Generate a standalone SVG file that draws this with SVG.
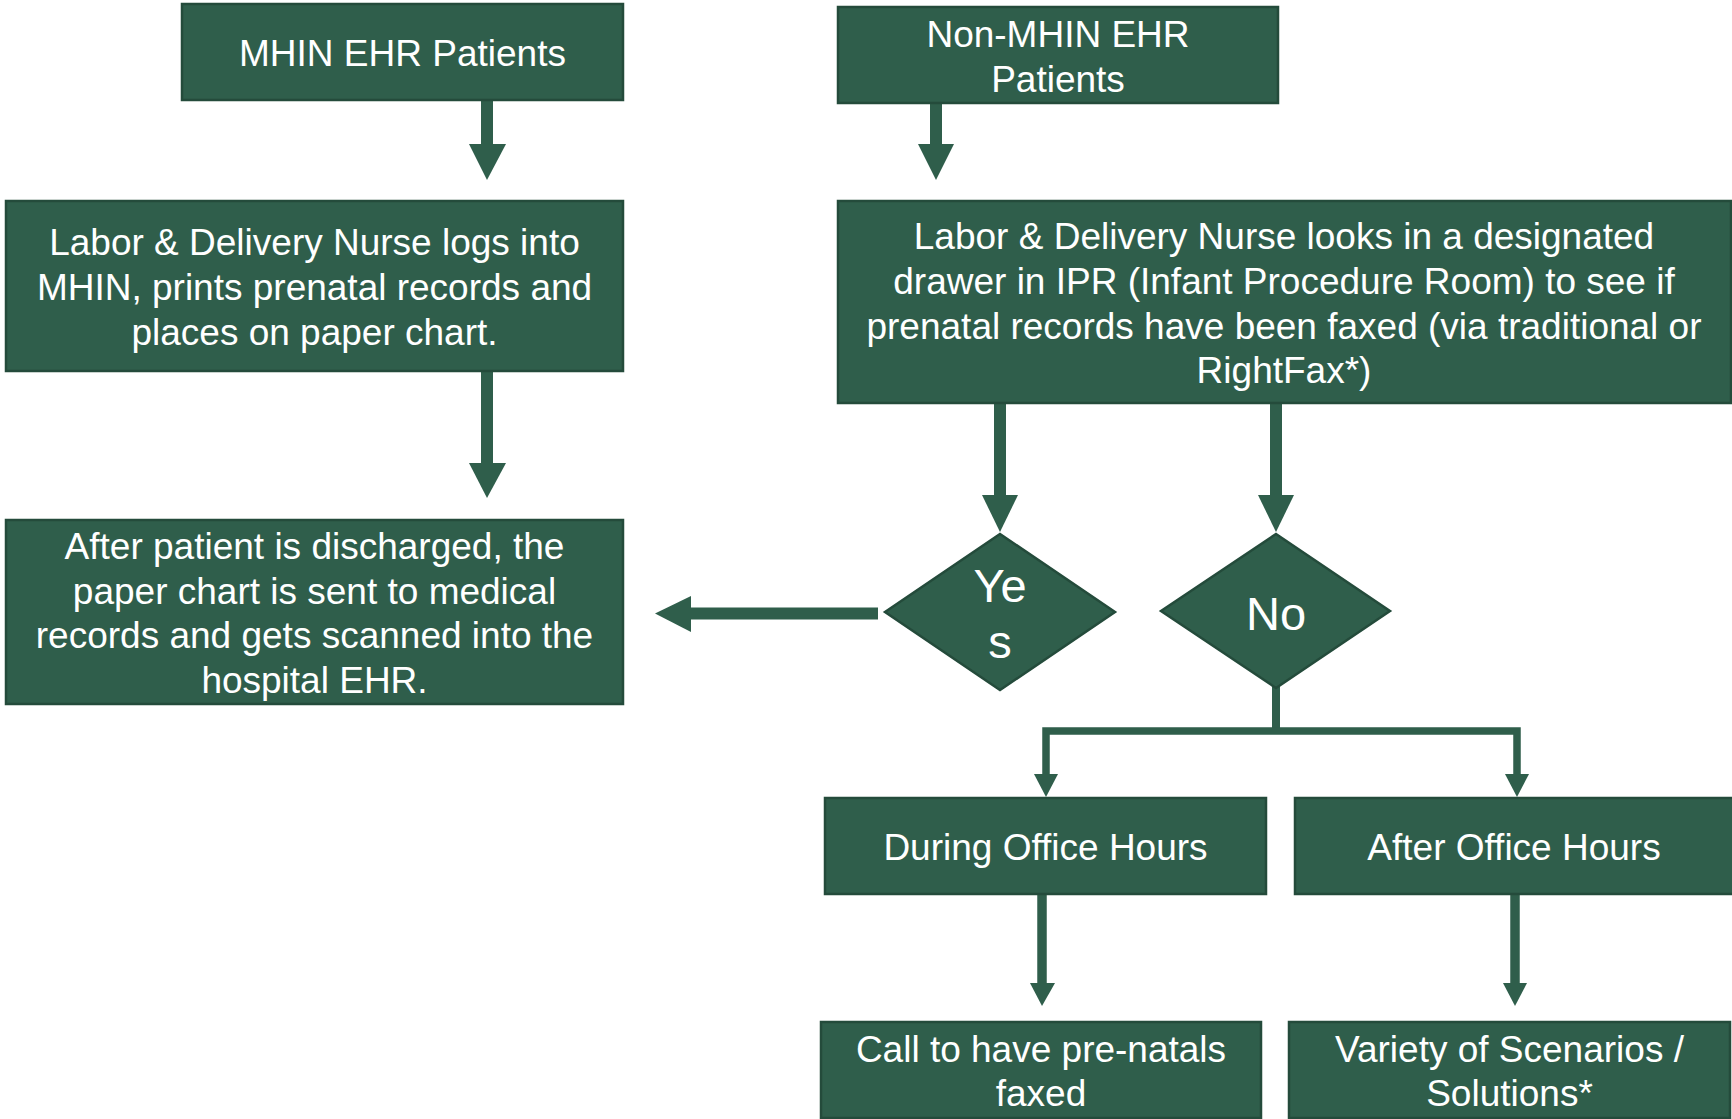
<svg xmlns="http://www.w3.org/2000/svg" width="1732" height="1119" viewBox="0 0 1732 1119">
<style>
.box{fill:#2F5E4B;stroke:#244B3B;stroke-width:2.5}
.t{fill:#FFFFFF;font-family:"Liberation Sans",Arial,sans-serif;font-size:37px;text-anchor:middle}
.big{font-size:47px}
.ln{fill:none;stroke:#2F5E4B}
.hd{fill:#2F5E4B}
</style>
<rect width="1732" height="1119" fill="#FFFFFF"/>
<g id="connectors">
  <line class="ln" x1="487" y1="100" x2="487" y2="146" stroke-width="12"/>
  <polygon class="hd" points="469,144 506,144 487,180"/>
  <line class="ln" x1="487" y1="371" x2="487" y2="465" stroke-width="12"/>
  <polygon class="hd" points="469,463 506,463 487,498"/>
  <line class="ln" x1="936" y1="103" x2="936" y2="146" stroke-width="12"/>
  <polygon class="hd" points="918,144 954,144 936,180"/>
  <line class="ln" x1="1000" y1="403" x2="1000" y2="497" stroke-width="12"/>
  <polygon class="hd" points="982,495 1018,495 1000,532"/>
  <line class="ln" x1="1276" y1="403" x2="1276" y2="497" stroke-width="12"/>
  <polygon class="hd" points="1258,495 1294,495 1276,532"/>
  <line class="ln" x1="878" y1="613.5" x2="689" y2="613.5" stroke-width="12"/>
  <polygon class="hd" points="691,596 691,632 655,613.5"/>
  <polyline class="ln" points="1276,687 1276,731" stroke-width="8"/>
  <polyline class="ln" points="1046,776 1046,731 1517,731 1517,776" stroke-width="7.5"/>
  <polygon class="hd" points="1034,774 1058,774 1046,797"/>
  <polygon class="hd" points="1505,774 1529,774 1517,797"/>
  <line class="ln" x1="1042" y1="894" x2="1042" y2="985" stroke-width="9.5"/>
  <polygon class="hd" points="1030,983 1055,983 1042,1006"/>
  <line class="ln" x1="1515" y1="894" x2="1515" y2="985" stroke-width="9.5"/>
  <polygon class="hd" points="1503,983 1527,983 1515,1006"/>
</g>
<g id="mhin">
  <rect class="box" x="182" y="4" width="441" height="96"/>
  <text class="t" x="402.5" y="66">MHIN EHR Patients</text>
</g>
<g id="nurse-logs">
  <rect class="box" x="6" y="201" width="617" height="170"/>
  <text class="t" x="314.5" y="255">Labor &amp; Delivery Nurse logs into</text>
  <text class="t" x="314.5" y="300">MHIN, prints prenatal records and</text>
  <text class="t" x="314.5" y="345">places on paper chart.</text>
</g>
<g id="after-discharge">
  <rect class="box" x="6" y="520" width="617" height="184"/>
  <text class="t" x="314.5" y="559">After patient is discharged, the</text>
  <text class="t" x="314.5" y="604">paper chart is sent to medical</text>
  <text class="t" x="314.5" y="648">records and gets scanned into the</text>
  <text class="t" x="314.5" y="693">hospital EHR.</text>
</g>
<g id="non-mhin">
  <rect class="box" x="838" y="7" width="440" height="96"/>
  <text class="t" x="1058" y="47">Non-MHIN EHR</text>
  <text class="t" x="1058" y="92">Patients</text>
</g>
<g id="nurse-looks">
  <rect class="box" x="838" y="201" width="893" height="202"/>
  <text class="t" x="1284" y="249">Labor &amp; Delivery Nurse looks in a designated</text>
  <text class="t" x="1284" y="294">drawer in IPR (Infant Procedure Room) to see if</text>
  <text class="t" x="1284" y="339">prenatal records have been faxed (via traditional or</text>
  <text class="t" x="1284" y="383">RightFax*)</text>
</g>
<g id="yes">
  <polygon class="box" points="1000,534 1115,612 1000,690 885,612"/>
  <text class="t big" x="1000" y="602">Ye</text>
  <text class="t big" x="1000" y="658">s</text>
</g>
<g id="no">
  <polygon class="box" points="1276,534 1390,611 1276,688 1161,611"/>
  <text class="t big" x="1276" y="630">No</text>
</g>
<g id="during">
  <rect class="box" x="825" y="798" width="441" height="96"/>
  <text class="t" x="1045.5" y="860">During Office Hours</text>
</g>
<g id="after">
  <rect class="box" x="1295" y="798" width="440" height="96"/>
  <text class="t" x="1514" y="860">After Office Hours</text>
</g>
<g id="call">
  <rect class="box" x="821" y="1022" width="440" height="96"/>
  <text class="t" x="1041" y="1062">Call to have pre-natals</text>
  <text class="t" x="1041" y="1106">faxed</text>
</g>
<g id="variety">
  <rect class="box" x="1289" y="1022" width="441" height="96"/>
  <text class="t" x="1509.5" y="1062">Variety of Scenarios /</text>
  <text class="t" x="1509.5" y="1106">Solutions*</text>
</g>
</svg>
